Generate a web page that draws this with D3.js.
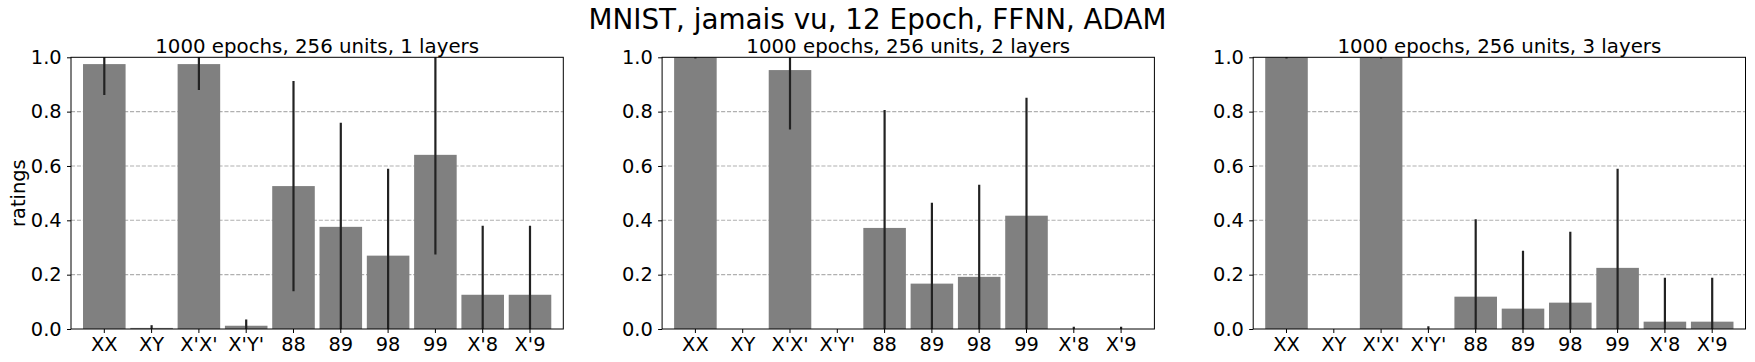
<!DOCTYPE html>
<html>
<head>
<meta charset="utf-8">
<script src="https://cdn.jsdelivr.net/npm/d3@7"></script>
<style>
  html, body { margin: 0; padding: 0; background: #fff; }
  svg { display: block; font-family: "DejaVu Sans", sans-serif; }
</style>
</head>
<body>
<svg id="chart" width="1755" height="362"></svg>
<script>
const suptitle = "MNIST, jamais vu, 12 Epoch, FFNN, ADAM";
const panelTitles = [
  "1000 epochs, 256 units, 1 layers",
  "1000 epochs, 256 units, 2 layers",
  "1000 epochs, 256 units, 3 layers"
];
const categories = ["XX", "XY", "X'X'", "X'Y'", "88", "89", "98", "99", "X'8", "X'9"];
const values1 = [0.975, 0.004, 0.975, 0.012, 0.526, 0.376, 0.270, 0.641, 0.126, 0.126];
const errors1 = [0.110, 0.006, 0.091, 0.019, 0.383, 0.379, 0.316, 0.363, 0.250, 0.250];
const values2 = [1.000, 0.000, 0.953, 0.000, 0.372, 0.167, 0.192, 0.417, 0.000, 0.000];
const errors2 = [0.000, null, 0.215, null, 0.430, 0.294, 0.335, 0.430, 0.004, 0.004];
const values3 = [1.000, 0.000, 1.000, 0.000, 0.119, 0.075, 0.097, 0.225, 0.027, 0.027];
const errors3 = [0.000, null, 0.000, 0.006, 0.281, 0.209, 0.257, 0.361, 0.158, 0.158];
const yTicks = [0.0, 0.2, 0.4, 0.6, 0.8, 1.0];
const gridTicks = [0.2, 0.4, 0.6, 0.8];
const yLabel = "ratings";

const panelValues = [values1, values2, values3];
const panelErrors = [errors1, errors2, errors3];

const svg = d3.select("#chart");
const W = 1755;
const axTop = 57.3, axBottom = 329;
const axWidth = 492.3;
const lefts = [71, 662.1, 1253.2];
const tickFont = "19.4px";

svg.append("text")
  .attr("x", W / 2)
  .attr("y", 29)
  .attr("text-anchor", "middle")
  .attr("font-size", "27.8px")
  .attr("fill", "#000")
  .text(suptitle);

const y = d3.scaleLinear().domain([0, 1]).range([axBottom - axTop, 0]);

panelValues.forEach((vals, p) => {
  const errs = panelErrors[p];
  const g = svg.append("g").attr("transform", `translate(${lefts[p]},${axTop})`);
  const h = axBottom - axTop;

  const x = d3.scaleBand()
    .domain(categories)
    .range([0, axWidth])
    .paddingInner(0.1)
    .paddingOuter(0.254);

  const clipId = "clip" + p;
  g.append("clipPath").attr("id", clipId)
    .append("rect").attr("x", 0).attr("y", 0).attr("width", axWidth).attr("height", h);

  // grid
  g.append("g").selectAll("line").data(gridTicks).join("line")
    .attr("x1", 0).attr("x2", axWidth)
    .attr("y1", d => y(d)).attr("y2", d => y(d))
    .attr("stroke", "#b0b0b0")
    .attr("stroke-width", 1.1)
    .attr("stroke-dasharray", "4.1,1.8");

  const data = categories.map((c, i) => ({ c, v: vals[i], e: errs[i] }));

  const plot = g.append("g").attr("clip-path", `url(#${clipId})`);
  plot.selectAll("rect.bar").data(data).join("rect")
    .attr("class", "bar")
    .attr("x", d => x(d.c))
    .attr("width", x.bandwidth())
    .attr("y", d => y(d.v))
    .attr("height", d => y(0) - y(d.v))
    .attr("fill", "#808080");

  plot.selectAll("line.err").data(data.filter(d => d.e !== null)).join("line")
    .attr("class", "err")
    .attr("x1", d => x(d.c) + x.bandwidth() / 2)
    .attr("x2", d => x(d.c) + x.bandwidth() / 2)
    .attr("y1", d => y(d.v - d.e))
    .attr("y2", d => y(d.v + d.e))
    .attr("stroke", "#222")
    .attr("stroke-width", 2.2)
    .attr("stroke-linecap", "square");

  // axes
  const yAxis = d3.axisLeft(y).tickValues(yTicks).tickFormat(d3.format(".1f"))
    .tickSize(4).tickPadding(5.3);
  const ya = g.append("g").call(yAxis);
  const xAxis = d3.axisBottom(x).tickSize(4).tickPadding(3.9);
  const xa = g.append("g").attr("transform", `translate(0,${h})`).call(xAxis);
  [ya, xa].forEach(a => {
    a.select(".domain").remove();
    a.selectAll(".tick line").attr("stroke", "#000").attr("stroke-width", 1);
    a.selectAll(".tick text").attr("font-size", tickFont).attr("fill", "#000")
      .attr("font-family", "DejaVu Sans, sans-serif");
  });

  // spines
  g.append("rect")
    .attr("x", 0).attr("y", 0).attr("width", axWidth).attr("height", h)
    .attr("fill", "none").attr("stroke", "#000").attr("stroke-width", 1);

  g.append("text")
    .attr("x", axWidth / 2)
    .attr("y", 52.7 - axTop)
    .attr("text-anchor", "middle")
    .attr("font-size", "19.8px")
    .attr("fill", "#000")
    .text(panelTitles[p]);

  if (p === 0) {
    g.append("text")
      .attr("transform", `translate(${25 - lefts[0]},${h / 2}) rotate(-90)`)
      .attr("text-anchor", "middle")
      .attr("font-size", "19.4px")
      .attr("fill", "#000")
      .text(yLabel);
  }
});
</script>
</body>
</html>
